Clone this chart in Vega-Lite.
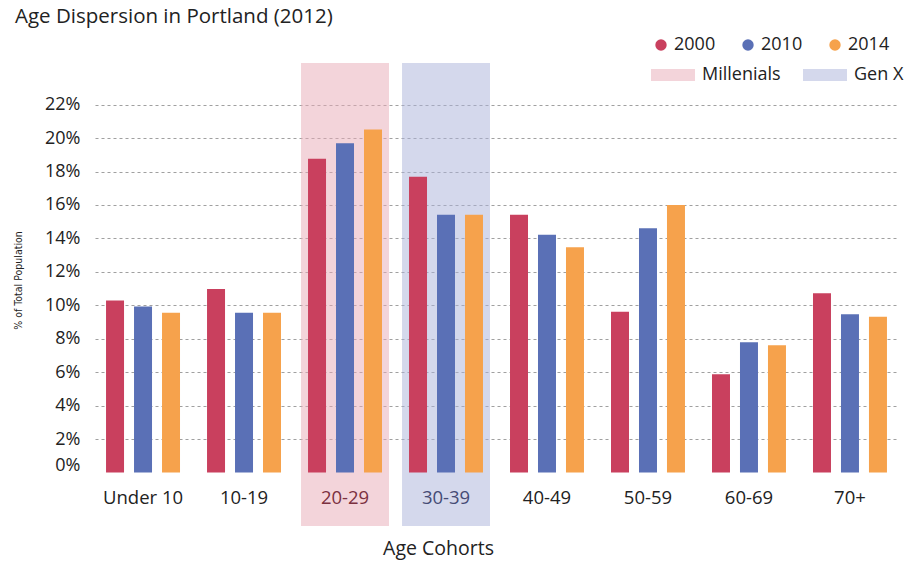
{
  "$schema": "https://vega.github.io/schema/vega-lite/v6.json",
  "autosize": "none",
  "width": 803,
  "height": 463,
  "padding": {"left": 95, "top": 63, "right": 13, "bottom": 40},
  "background": "white",
  "config": {
    "font": "Open Sans",
    "view": {"stroke": null}
  },
  "title": {
    "text": "Age Dispersion in Portland (2012)",
    "anchor": "start",
    "dx": 2,
    "dy": -9,
    "offset": 0,
    "fontSize": 20.5,
    "fontWeight": "normal",
    "color": "#222222",
    "font": "Open Sans"
  },
  "datasets": {
    "bands": [
      {"cohort": "20-29", "generation": "Millenials"},
      {"cohort": "30-39", "generation": "Gen X"}
    ],
    "shares": [
      {"cohort": "Under 10", "year": "2000", "share": 0.1028},
      {"cohort": "Under 10", "year": "2010", "share": 0.0992},
      {"cohort": "Under 10", "year": "2014", "share": 0.0956},
      {"cohort": "10-19", "year": "2000", "share": 0.1097},
      {"cohort": "10-19", "year": "2010", "share": 0.0956},
      {"cohort": "10-19", "year": "2014", "share": 0.0956},
      {"cohort": "20-29", "year": "2000", "share": 0.1877},
      {"cohort": "20-29", "year": "2010", "share": 0.1969},
      {"cohort": "20-29", "year": "2014", "share": 0.2052},
      {"cohort": "30-39", "year": "2000", "share": 0.1769},
      {"cohort": "30-39", "year": "2010", "share": 0.1542},
      {"cohort": "30-39", "year": "2014", "share": 0.1542},
      {"cohort": "40-49", "year": "2000", "share": 0.1542},
      {"cohort": "40-49", "year": "2010", "share": 0.1422},
      {"cohort": "40-49", "year": "2014", "share": 0.1347},
      {"cohort": "50-59", "year": "2000", "share": 0.0962},
      {"cohort": "50-59", "year": "2010", "share": 0.146},
      {"cohort": "50-59", "year": "2014", "share": 0.16},
      {"cohort": "60-69", "year": "2000", "share": 0.0587},
      {"cohort": "60-69", "year": "2010", "share": 0.0779},
      {"cohort": "60-69", "year": "2014", "share": 0.0761},
      {"cohort": "70+", "year": "2000", "share": 0.1072},
      {"cohort": "70+", "year": "2010", "share": 0.0946},
      {"cohort": "70+", "year": "2014", "share": 0.0932}
    ]
  },
  "layer": [
    {
      "data": {"name": "bands"},
      "mark": {"type": "rect", "fillOpacity": 0.5},
      "encoding": {
        "x": {
          "field": "cohort",
          "type": "nominal",
          "sort": ["Under 10", "10-19", "20-29", "30-39", "40-49", "50-59", "60-69", "70+"],
          "scale": {"paddingInner": 0.129, "paddingOuter": 0.04},
          "axis": {
            "title": "Age Cohorts",
            "orient": "bottom",
            "offset": -44,
            "labelAngle": 0,
            "labelFontSize": 18.5,
            "labelPadding": 6,
            "labelColor": {
              "condition": [
                {"test": "datum.value === '20-29'", "value": "#7b3040"},
                {"test": "datum.value === '30-39'", "value": "#454b75"}
              ],
              "value": "#222222"
            },
            "domain": false,
            "ticks": false,
            "grid": false,
            "titleFontSize": 19.5,
            "titleFontWeight": "normal",
            "titleColor": "#222222",
            "titlePadding": 33,
            "titleX": 343
          }
        },
        "fill": {
          "field": "generation",
          "type": "nominal",
          "scale": {"domain": ["Millenials", "Gen X"], "range": ["#e8a9b6", "#a9b1d9"]},
          "legend": {
            "title": null,
            "orient": "none",
            "direction": "horizontal",
            "legendX": 556,
            "legendY": -10,
            "symbolType": "M-1,-0.27H1V0.27H-1Z",
            "symbolSize": 1936,
            "symbolOpacity": 0.5,
            "symbolStrokeWidth": 0,
            "labelFontSize": 18,
            "labelColor": "#222222",
            "labelOffset": 7,
            "columnPadding": 22
          }
        }
      }
    },
    {
      "data": {"name": "shares"},
      "mark": {"type": "bar"},
      "encoding": {
        "x": {
          "field": "cohort",
          "type": "nominal",
          "sort": ["Under 10", "10-19", "20-29", "30-39", "40-49", "50-59", "60-69", "70+"],
          "axis": {
            "title": "Age Cohorts",
            "orient": "bottom",
            "offset": -44,
            "labelAngle": 0,
            "labelFontSize": 18.5,
            "labelPadding": 6,
            "labelColor": {
              "condition": [
                {"test": "datum.value === '20-29'", "value": "#7b3040"},
                {"test": "datum.value === '30-39'", "value": "#454b75"}
              ],
              "value": "#222222"
            },
            "domain": false,
            "ticks": false,
            "grid": false,
            "titleFontSize": 19.5,
            "titleFontWeight": "normal",
            "titleColor": "#222222",
            "titlePadding": 33,
            "titleX": 343
          }
        },
        "xOffset": {
          "field": "year",
          "type": "nominal",
          "scale": {"paddingInner": 0.357, "paddingOuter": 0.25}
        },
        "y": {
          "field": "share",
          "type": "quantitative",
          "scale": {"domain": [-0.032, 0.2449], "nice": false, "zero": false},
          "axis": {
            "title": "% of Total Population",
            "values": [0, 0.02, 0.04, 0.06, 0.08, 0.1, 0.12, 0.14, 0.16, 0.18, 0.2, 0.22],
            "format": ".0%",
            "labelFontSize": 18,
            "labelColor": "#222222",
            "labelPadding": 15,
            "labelOffset": {"condition": {"test": "datum.value === 0", "value": -7}, "value": 0},
            "domain": false,
            "ticks": false,
            "grid": true,
            "gridColor": "#a0a0a0",
            "gridDash": [3, 3],
            "gridWidth": 1.2,
            "gridOpacity": {"condition": {"test": "datum.value === 0", "value": 0}, "value": 1},
            "titleFont": "DejaVu Sans Condensed",
            "titleFontSize": 10.5,
            "titleFontWeight": "normal",
            "titleColor": "#222222",
            "titleX": -72,
            "titleY": 217
          }
        },
        "y2": {"datum": 0},
        "color": {
          "field": "year",
          "type": "nominal",
          "scale": {"domain": ["2000", "2010", "2014"], "range": ["#c9405e", "#5a70b6", "#f6a24c"]},
          "legend": {
            "title": null,
            "orient": "none",
            "direction": "horizontal",
            "legendX": 557,
            "legendY": -27,
            "symbolType": "circle",
            "symbolSize": 130,
            "symbolStrokeWidth": 0,
            "labelFontSize": 18,
            "labelColor": "#222222",
            "labelOffset": 4,
            "columnPadding": 23
          }
        }
      }
    }
  ]
}
